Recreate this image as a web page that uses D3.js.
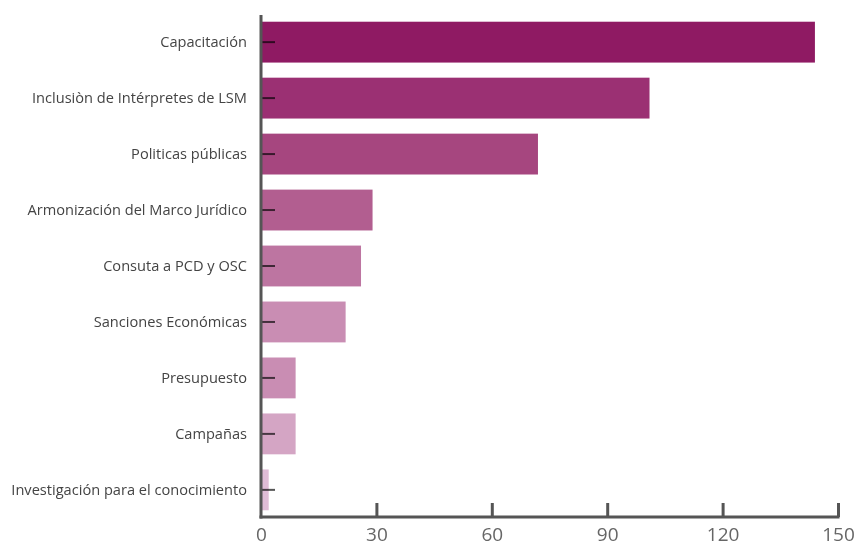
<!DOCTYPE html>
<html>
<head>
<meta charset="utf-8">
<script src="https://cdn.jsdelivr.net/npm/d3@7"></script>
<style>
  body { margin: 0; background: #fff; }
  svg { display: block; }
</style>
</head>
<body>
<svg id="chart" width="857" height="546"></svg>
<script>
// Data
let categories = [
  "Capacitación",
  "Inclusiòn de Intérpretes de LSM",
  "Politicas públicas",
  "Armonización del Marco Jurídico",
  "Consuta a PCD y OSC",
  "Sanciones Económicas",
  "Presupuesto",
  "Campañas",
  "Investigación para el conocimiento"
]
let values = [144, 101, 72, 29, 26, 22, 9, 9, 2]
let colors = ["#8f1a63", "#9b3073", "#a6467f", "#b25e90", "#bd75a1", "#c98db3", "#c98db3", "#d4a5c4", "#dfbcd6"]
let xTicks = [0, 30, 60, 90, 120, 150]

// Layout
let mLeft = 261, mRight = 838, mTop = 15, mBottom = 517
let svg = d3.select("#chart")

let x = d3.scaleLinear().domain([0, 150]).range([mLeft, mRight])
let y = d3.scaleBand().domain(categories).range([mTop, mBottom]).paddingInner(0.27).paddingOuter(0.12)

// Bars
svg.append("g").selectAll("rect")
  .data(categories)
  .join("rect")
  .attr("x", x(0))
  .attr("y", d => y(d))
  .attr("width", (d, i) => x(values[i]) - x(0))
  .attr("height", y.bandwidth())
  .attr("fill", (d, i) => colors[i])

// Y axis
let yAxis = svg.append("g")
  .attr("transform", `translate(${mLeft},0)`)
  .call(d3.axisLeft(y).tickSize(-14).tickPadding(30))
yAxis.select(".domain").remove()
yAxis.selectAll(".tick line")
  .attr("stroke", "#555").attr("stroke-width", 2)
  .style("mix-blend-mode", "multiply")
yAxis.selectAll(".tick text")
  .attr("x", -14)
  .attr("fill", "#444")
  .style("font-family", "'Open Sans', sans-serif")
  .style("font-size", "14.6px")

// X axis
let xAxis = svg.append("g")
  .attr("transform", `translate(0,${mBottom})`)
  .call(d3.axisBottom(x).tickValues(xTicks).tickSize(-14).tickPadding(11).tickSizeOuter(0))
xAxis.select(".domain").remove()
xAxis.selectAll(".tick line")
  .attr("stroke", "#555").attr("stroke-width", 3)
  .filter(d => d === 0).remove()
xAxis.selectAll(".tick text")
  .attr("fill", "#666")
  .style("font-family", "'Open Sans', sans-serif")
  .style("font-size", "19px")

// Axis lines
svg.append("line")
  .attr("x1", mLeft).attr("x2", mLeft)
  .attr("y1", mTop).attr("y2", mBottom + 1.5)
  .attr("stroke", "#555").attr("stroke-width", 3)
svg.append("line")
  .attr("x1", mLeft - 1.5).attr("x2", mRight + 1.5)
  .attr("y1", mBottom).attr("y2", mBottom)
  .attr("stroke", "#555").attr("stroke-width", 3)
</script>
</body>
</html>
